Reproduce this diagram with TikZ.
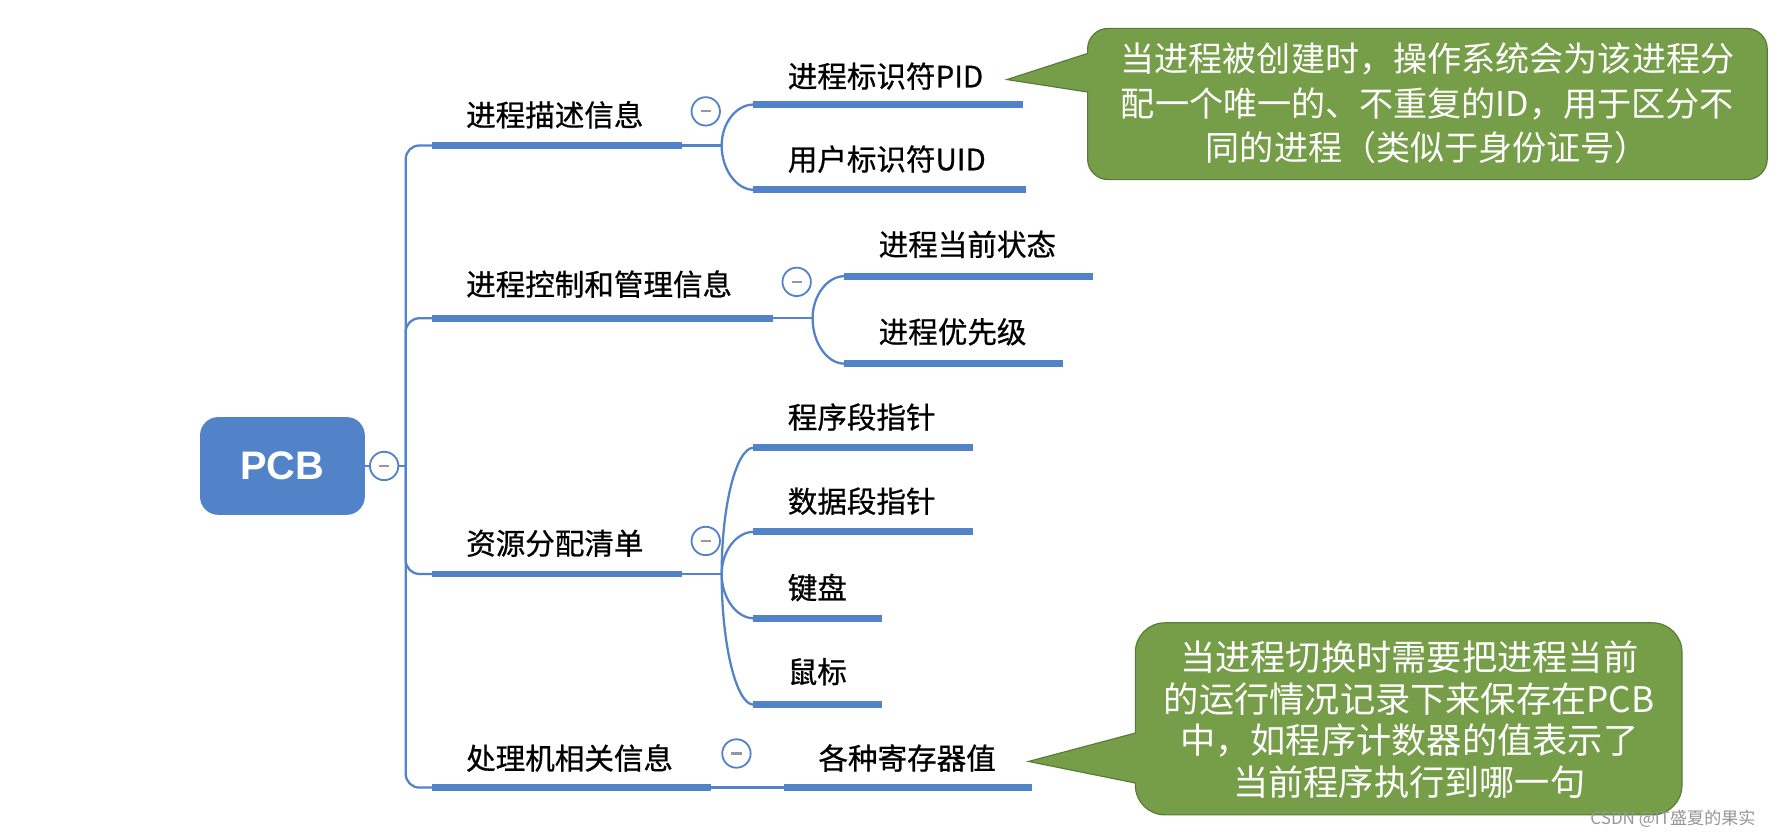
\documentclass[tikz,border=0pt]{standalone}
\usepackage{fontspec}
\setmainfont{Noto Sans CJK SC}
\newfontfamily\topicfont[FakeBold=0.7]{Noto Sans CJK SC}
\newfontfamily\pcbfont{Liberation Sans}
\definecolor{mmblue}{RGB}{82,131,200}
\definecolor{cgreen}{RGB}{118,158,72}
\definecolor{cborder}{RGB}{88,122,55}
\definecolor{minusgray}{RGB}{150,150,165}
\definecolor{wmgray}{RGB}{150,150,150}
\begin{document}
\begin{tikzpicture}[x=1pt,y=-1pt,
  topic/.style={font=\topicfont\fontsize{26}{30}\selectfont, text=black, inner sep=0pt, anchor=west},
  uline/.style={draw=mmblue, line width=6pt},
  conn/.style={draw=mmblue, line width=2pt},
  fold/.style={circle, draw=mmblue, fill=white, line width=1.6pt, minimum size=25pt, inner sep=0pt,
    path picture={\draw[minusgray, line width=1.8pt] ([xshift=-4.5pt]path picture bounding box.center) -- ([xshift=4.5pt]path picture bounding box.center);}},
  callout/.style={fill=cgreen, draw=cborder, line width=1pt},
  ctext/.style={text=white, align=center, inner sep=0pt},
]
\useasboundingbox (0,0) rectangle (1568,737);

% root
\node[fill=mmblue, rounded corners=16pt, minimum width=145pt, minimum height=86pt, text=white,
      font=\pcbfont\bfseries\fontsize{35}{40}\selectfont] (pcb) at (248.5,410) {PCB};
\node[fold] (f0) at (338,410) {};
\coordinate (trunk) at (357,410);

% branch anchor coordinates
\coordinate (b1s) at (380,128); \coordinate (b1e) at (600,128); \coordinate (k1) at (635,128);
\coordinate (b2s) at (380,280); \coordinate (b2e) at (680,280); \coordinate (k2) at (715,280);
\coordinate (b3s) at (380,505); \coordinate (b3e) at (600,505); \coordinate (k3) at (635,505);
\coordinate (b4s) at (380,693); \coordinate (b4e) at (626,693);

% child underline coordinates
\coordinate (c11s) at (663,92);  \coordinate (c11e) at (900,92);
\coordinate (c12s) at (663,167); \coordinate (c12e) at (903,167);
\coordinate (c21s) at (743,243); \coordinate (c21e) at (962,243);
\coordinate (c22s) at (743,320); \coordinate (c22e) at (935,320);
\coordinate (c31s) at (663,394); \coordinate (c31e) at (856,394);
\coordinate (c32s) at (663,468); \coordinate (c32e) at (856,468);
\coordinate (c33s) at (663,544); \coordinate (c33e) at (776,544);
\coordinate (c34s) at (663,620); \coordinate (c34e) at (776,620);
\coordinate (c41s) at (690,693); \coordinate (c41e) at (908,693);

% trunk connectors
\draw[conn] (pcb.east) -- (f0.west);
\draw[conn] (f0.east) -- (trunk);
\draw[conn, rounded corners=12pt] (trunk) |- (b1s);
\draw[conn, rounded corners=12pt] (trunk) |- (b2s);
\draw[conn, rounded corners=12pt] (trunk) |- (b3s);
\draw[conn, rounded corners=12pt] (trunk) |- (b4s);

% branch topics
\node[topic] (b1) at (410,101) {进程描述信息};
\node[topic] (b2) at (410,250) {进程控制和管理信息};
\node[topic] (b3) at (410,478) {资源分配清单};
\node[topic] (b4) at (410,667) {处理机相关信息};
\draw[uline] (b1s) -- (b1e);
\draw[uline] (b2s) -- (b2e);
\draw[uline] (b3s) -- (b3e);
\draw[uline] (b4s) -- (b4e);

% fork connectors
\draw[conn] (b1e) -- (k1);
\draw[conn] (k1) .. controls (635,108) and (648,92) .. (c11s);
\draw[conn] (k1) .. controls (635,149) and (648,167) .. (c12s);
\draw[conn] (b2e) -- (k2);
\draw[conn] (k2) .. controls (715,260) and (728,243) .. (c21s);
\draw[conn] (k2) .. controls (715,302) and (728,320) .. (c22s);
\draw[conn] (b3e) -- (k3);
\draw[conn] (k3) .. controls (635,444) and (648,394) .. (c31s);
\draw[conn] (k3) .. controls (635,485) and (648,468) .. (c32s);
\draw[conn] (k3) .. controls (635,526) and (648,544) .. (c33s);
\draw[conn] (k3) .. controls (635,568) and (648,620) .. (c34s);
\draw[conn] (b4e) -- (c41s);

% fold markers
\node[fold] (f1) at (621,98) {};
\node[fold] (f2) at (701,248) {};
\node[fold] (f3) at (621,476) {};
\node[fold] (f4) at (648,663) {};

% children
\node[topic] (c11) at (693,67) {进程标识符PID};
\node[topic] (c12) at (693,140) {用户标识符UID};
\node[topic] (c21) at (773,215) {进程当前状态};
\node[topic] (c22) at (773,292) {进程优先级};
\node[topic] (c31) at (693,367) {程序段指针};
\node[topic] (c32) at (693,441) {数据段指针};
\node[topic] (c33) at (693,517) {键盘};
\node[topic] (c34) at (693,591) {鼠标};
\node[topic] (c41) at (720,667) {各种寄存器值};
\draw[uline] (c11s) -- (c11e);
\draw[uline] (c12s) -- (c12e);
\draw[uline] (c21s) -- (c21e);
\draw[uline] (c22s) -- (c22e);
\draw[uline] (c31s) -- (c31e);
\draw[uline] (c32s) -- (c32e);
\draw[uline] (c33s) -- (c33e);
\draw[uline] (c34s) -- (c34e);
\draw[uline] (c41s) -- (c41e);

% callout 1
\coordinate (t1) at (886,70);
\path[callout] (t1) -- (957,47) [rounded corners=18pt] -- (957,25) -- (1555,25) -- (1555,158) -- (957,158) [sharp corners] -- (957,81) -- cycle;
\node[ctext, font=\fontsize{30}{39}\selectfont] (n1) at (1256,91)
  {当进程被创建时，操作系统会为该进程分\\配一个唯一的、不重复的ID，用于区分不\\同的进程（类似于身份证号）};

% callout 2
\coordinate (t2) at (905,670);
\path[callout] (t2) -- (999,645) [rounded corners=26pt] -- (999,548) -- (1480,548) -- (1480,717) -- (999,717) [sharp corners] -- (999,689) -- cycle;
\node[ctext, font=\fontsize{31}{36.5}\selectfont] (n2) at (1240,633)
  {当进程切换时需要把进程当前\\的运行情况记录下来保存在PCB\\中，如程序计数器的值表示了\\当前程序执行到哪一句};

% watermark
\node[text=wmgray, inner sep=0pt, font=\fontsize{15}{18}\selectfont] (wm) at (1472,720) {CSDN @IT盛夏的果实};
\end{tikzpicture}
\end{document}
